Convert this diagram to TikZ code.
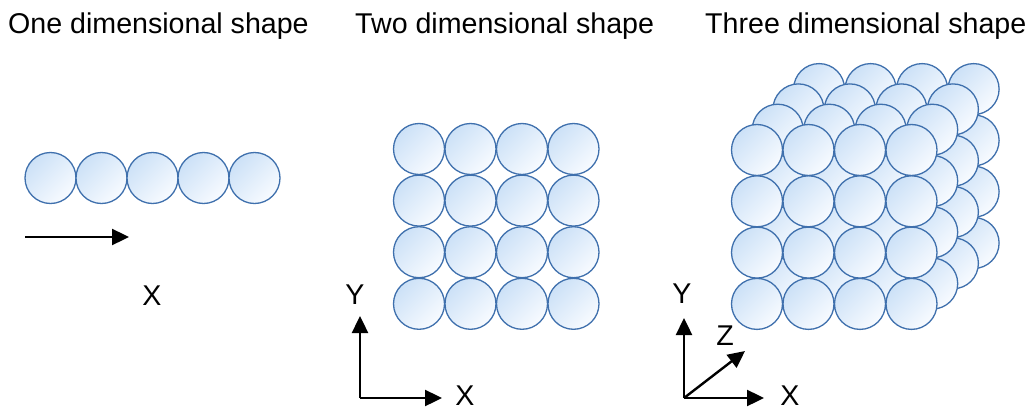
\documentclass[tikz,border=0pt]{standalone}
\usepackage{fontspec}
\setmainfont{Liberation Sans}
\usetikzlibrary{arrows.meta}
\definecolor{ballline}{HTML}{3F70AD}
\definecolor{ballA}{HTML}{CCE1F7}
\definecolor{ballB}{HTML}{F8FBFF}
\tikzset{
  ball/.style={circle, draw=ballline, line width=1.3pt, minimum size=51pt, inner sep=0pt,
    top color=ballA, bottom color=ballB, shading angle=45},
  title/.style={anchor=base west, inner sep=0pt, font=\fontsize{28.6}{34}\selectfont},
  axlabel/.style={anchor=base, inner sep=0pt, font=\fontsize{28.6}{34}\selectfont},
  axarrow/.style={line width=2.4pt, -{Triangle[length=17pt,width=16pt]}}
}
\begin{document}
\begin{tikzpicture}[x=1pt,y=-1pt]
\useasboundingbox (0,0) rectangle (1030,409);
% titles
\node[title] (t1) at (8,34) {One dimensional shape};
\node[title] (t2) at (355,34) {Two dimensional shape};
\node[title] (t3) at (705,34) {Three dimensional shape};
% 1D
\foreach \i in {0,...,4} {
  \node[ball] (a\i) at ({50.5+51*\i},178) {};
}
\coordinate (o1) at (25,237);
\coordinate (e1) at (129,237);
\draw[axarrow] (o1) -- (e1);
\node[axlabel] (x1) at (152,305) {X};
% 2D
\foreach \r in {0,...,3} {
  \foreach \c in {0,...,3} {
    \node[ball] (b\r\c) at ({419+51.5*\c},{149+51.6*\r}) {};
  }
}
\coordinate (o2) at (360,398);
\coordinate (y2) at (360,316);
\coordinate (x2) at (442,398);
\draw[axarrow] (o2) -- (y2);
\draw[axarrow] (o2) -- (x2);
\node[axlabel] (ly2) at (355,304) {Y};
\node[axlabel] (lx2) at (465,405) {X};
% 3D
\foreach \k in {3,2,1,0} {
  \foreach \r in {0,...,3} {
    \foreach \c in {0,...,3} {
      \node[ball] (c\k\r\c) at ({757+51.5*\c+20.7*\k},{150+51.3*\r-20.3*\k}) {};
    }
  }
}
\coordinate (o3) at (684,398);
\coordinate (y3) at (684,318);
\coordinate (x3) at (764,398);
\coordinate (z3) at (745,351);
\draw[axarrow] (o3) -- (y3);
\draw[axarrow] (o3) -- (x3);
\draw[axarrow] (o3) -- (z3);
\node[axlabel] (ly3) at (682,303) {Y};
\node[axlabel] (lz3) at (725,345) {Z};
\node[axlabel] (lx3) at (790,405) {X};
\end{tikzpicture}
\end{document}
